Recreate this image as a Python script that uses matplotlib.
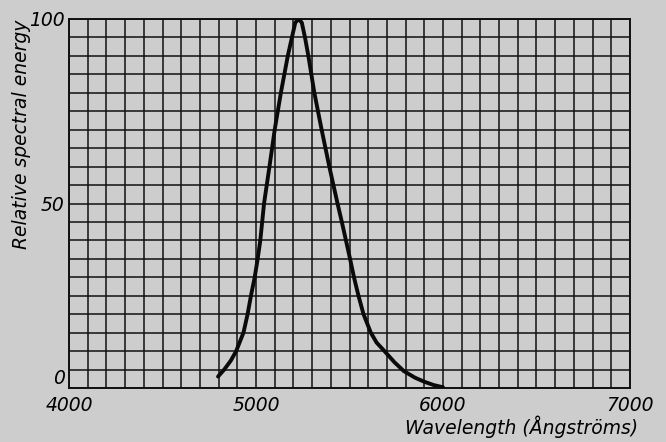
import numpy as np
import matplotlib
matplotlib.use("Agg")
import matplotlib.pyplot as plt
from matplotlib.ticker import MultipleLocator

# Data
wavelength = [4797, 4830, 4865, 4894, 4933, 4955, 4973, 4993, 5009, 5023,
              5043, 5072, 5100, 5133, 5170, 5192, 5210, 5228, 5245, 5262,
              5280, 5312, 5351, 5392, 5436, 5459, 5481, 5503, 5524, 5548,
              5575, 5614, 5645, 5687, 5740, 5790, 5850, 5900, 5950, 6000]
energy = [3.1, 5, 7.4, 10, 15, 20, 25, 30, 35, 40,
          50, 60, 70, 80, 90, 95, 99, 100, 99, 95,
          90, 80, 70, 60, 50, 45, 40, 35, 30, 25,
          20, 15, 12.3, 10, 7.0, 4.6, 2.8, 1.7, 0.8, 0.2]

x_ticks = [4000, 5000, 6000, 7000]
x_tick_labels = ["4000", "5000", "6000", "7000"]
y_ticks = [0, 50, 100]
y_tick_labels = ["0", "50", "100"]

bg = "#cdcdcd"
fig = plt.figure(figsize=(6.66, 4.42), dpi=100, facecolor=bg)
ax = fig.add_axes([69/666, 1-388/442, (630-69)/666, (388-19)/442])
ax.set_facecolor(bg)

ax.set_xlim(4000, 7000)
ax.set_ylim(0, 100)

ax.xaxis.set_minor_locator(MultipleLocator(100))
ax.yaxis.set_minor_locator(MultipleLocator(5))
ax.set_xticks(x_ticks)
ax.set_yticks(y_ticks)
ax.grid(which="both", color="#111111", linewidth=1.1)
ax.set_axisbelow(True)
ax.tick_params(which="both", length=0)

font = dict(family="DejaVu Sans", style="oblique", size=13.5)
ax.set_xticklabels(x_tick_labels, **font)
ax.set_yticklabels(y_tick_labels, **font)
ax.tick_params(axis="x", pad=6)
ax.tick_params(axis="y", pad=3)
for lab in ax.get_yticklabels():
    if lab.get_text() == "0":
        lab.set_va("bottom")

for s in ax.spines.values():
    s.set_color("#111111")
    s.set_linewidth(1.4)

ax.plot(wavelength, energy, color="#0a0a0a", linewidth=2.8,
        solid_capstyle="round", solid_joinstyle="round", zorder=5)

fig.text(638/666, 1-427/442, "Wavelength (Ångströms)", ha="right", va="center",
         family="DejaVu Sans", style="oblique", size=13.5)
fig.text(22/666, 1-134/442, "Relative spectral energy", ha="center", va="center",
         rotation=90, family="DejaVu Sans", style="oblique", size=13.5)

fig.savefig("out.png", dpi=100, facecolor=bg)
